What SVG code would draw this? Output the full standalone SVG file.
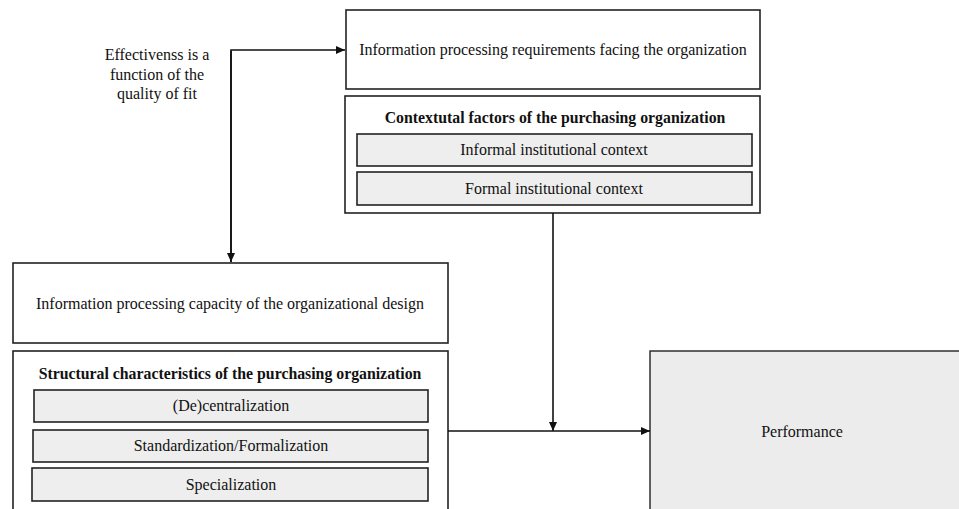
<svg xmlns="http://www.w3.org/2000/svg" width="959" height="509" viewBox="0 0 959 509">
<defs>
<style>
.box{fill:#fff;stroke:#222;stroke-width:1.6}
.sub{fill:#eeeeee;stroke:#222;stroke-width:1.6}
.perf{fill:#ececec;stroke:#222;stroke-width:1.4}
.t{font-family:"Liberation Serif","Times New Roman",serif;font-size:16px;fill:#111;text-anchor:middle}
.b{font-family:"Liberation Serif","Times New Roman",serif;font-size:15.8px;font-weight:bold;fill:#111;text-anchor:middle}
.c{fill:none;stroke:#111;stroke-width:1.6}
</style>
<marker id="ah" markerWidth="10" markerHeight="10" refX="9" refY="5" orient="auto" markerUnits="userSpaceOnUse">
<path d="M0,1 L9,5 L0,9 z" fill="#111"/>
</marker>
</defs>
<rect width="959" height="509" fill="#fff"/>
<g id="label-fit">
<text class="t" x="157" y="60">Effectivenss is a</text>
<text class="t" x="157" y="80">function of the</text>
<text class="t" x="157" y="99">quality of fit</text>
</g>
<g id="requirements">
<rect class="box" x="346" y="10" width="414" height="79"/>
<text class="t" x="553" y="55">Information processing requirements facing the organization</text>
</g>
<g id="contextual">
<rect class="box" x="345" y="96" width="415" height="117"/>
<text class="b" x="555" y="123">Contextutal factors of the purchasing organization</text>
<g id="informal">
<rect class="sub" x="357" y="134" width="395" height="32"/>
<text class="t" x="554" y="155">Informal institutional context</text>
</g>
<g id="formal">
<rect class="sub" x="357" y="172" width="395" height="33"/>
<text class="t" x="554" y="194">Formal institutional context</text>
</g>
</g>
<g id="capacity">
<rect class="box" x="13" y="263" width="435" height="80"/>
<text class="t" x="230" y="309">Information processing capacity of the organizational design</text>
</g>
<g id="structural">
<rect class="box" x="13" y="351" width="435" height="170"/>
<text class="b" x="230" y="379">Structural characteristics of the purchasing organization</text>
<g id="decentralization">
<rect class="sub" x="34" y="390" width="394" height="32"/>
<text class="t" x="231" y="411">(De)centralization</text>
</g>
<g id="standardization">
<rect class="sub" x="33" y="430" width="395" height="32"/>
<text class="t" x="231" y="451">Standardization/Formalization</text>
</g>
<g id="specialization">
<rect class="sub" x="32" y="468" width="396" height="33"/>
<text class="t" x="231" y="490">Specialization</text>
</g>
</g>
<g id="performance">
<rect class="perf" x="650" y="351" width="320" height="170"/>
<text class="t" x="802" y="437">Performance</text>
</g>
<g id="connectors">
<path class="c" d="M231,262 L231,50 L345,50" marker-end="url(#ah)"/>
<path class="c" d="M231,51 L231,262" marker-end="url(#ah)"/>
<path class="c" d="M553,213 L553,431" marker-end="url(#ah)"/>
<path class="c" d="M448,431 L650,431" marker-end="url(#ah)"/>
</g>
</svg>
